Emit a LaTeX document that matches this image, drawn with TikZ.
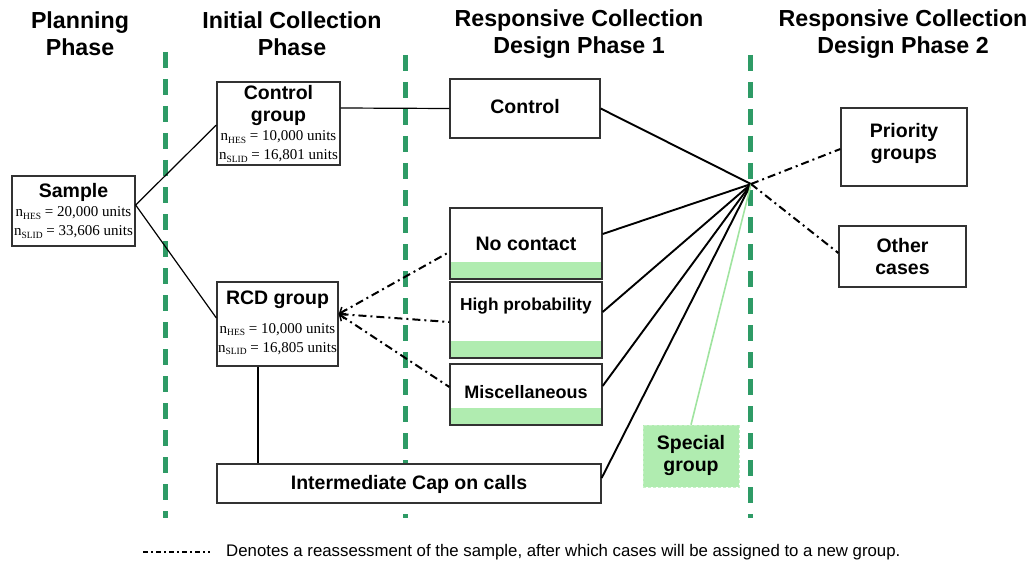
\documentclass[tikz,border=0pt]{standalone}
\usepackage{fontspec}
\setmainfont{Liberation Sans}
\newfontfamily\serif{Liberation Serif}
\usetikzlibrary{arrows.meta}
\definecolor{phasegreen}{RGB}{46,155,102}
\definecolor{lightgreen}{RGB}{176,236,176}
\definecolor{speciallink}{RGB}{160,228,160}
\definecolor{boxgray}{RGB}{50,50,50}
\newcommand{\nsub}[1]{n\raisebox{-0.35ex}{\fontsize{9.5}{9.5}\selectfont #1}}
\tikzset{
  hdr/.style={font=\fontsize{23.2}{27}\selectfont\bfseries, align=center, inner sep=0pt},
  boxn/.style={draw=boxgray, line width=1.3pt, fill=white, inner sep=0pt},
  strip/.style={path picture={\fill[lightgreen] (path picture bounding box.south west) rectangle ([yshift=17pt]path picture bounding box.south east);}},
  ttl/.style={font=\fontsize{19.5}{22}\selectfont\bfseries, align=center, inner sep=0pt},
  nums/.style={font=\fontsize{15}{19}\selectfont\serif, align=center, inner sep=0pt},
  phase/.style={draw=phasegreen, line width=5pt, dash pattern=on 16pt off 11pt},
  link/.style={line width=1.9pt},
  thin/.style={line width=1.2pt},
  reassess/.style={line width=2pt, dash pattern=on 8pt off 4pt on 2pt off 4pt},
}
\begin{document}
\begin{tikzpicture}[x=1pt,y=-1pt]
\useasboundingbox (0,0) rectangle (1032,564);
% headers
\node[hdr] (h1) at (80,34) {Planning\\Phase};
\node[hdr] (h2) at (292,34) {Initial Collection\\Phase};
\node[hdr] (h3) at (579,34) {Responsive Collection\\Design Phase 1};
\node[hdr] (h4) at (903,34) {Responsive Collection\\Design Phase 2};
% phase separators
\coordinate (s1a) at (165,52); \coordinate (s1b) at (165,518);
\coordinate (s2a) at (405,55); \coordinate (s2b) at (405,518);
\coordinate (s3a) at (750,55); \coordinate (s3b) at (750,518);
\draw[phase] (s1a) -- (s1b);
\draw[phase] (s2a) -- (s2b);
\draw[phase] (s3a) -- (s3b);
% boxes
\node[boxn, minimum width=123pt, minimum height=70pt] (sample) at (73.5,211) {};
\node[ttl] (sampleT) at (73.5,192) {Sample};
\node[nums] (sampleN) at (73.5,222.5) {\nsub{HES} = 20,000 units\\\nsub{SLID} = 33,606 units};

\node[boxn, minimum width=123pt, minimum height=83pt] (ctrlg) at (278.5,123.5) {};
\node[ttl] (ctrlgT) at (278.5,106) {Control\\group};
\node[nums] (ctrlgN) at (278.5,146.5) {\nsub{HES} = 10,000 units\\\nsub{SLID} = 16,801 units};

\node[boxn, minimum width=121pt, minimum height=84pt] (rcd) at (277.5,324) {};
\node[ttl] (rcdT) at (277.5,300) {RCD group};
\node[nums] (rcdN) at (277.5,339) {\nsub{HES} = 10,000 units\\\nsub{SLID} = 16,805 units};

\node[boxn, minimum width=150pt, minimum height=59pt] (control) at (525,108.5) {};
\node[ttl] (controlT) at (525,107) {Control};

\node[boxn, strip, minimum width=152pt, minimum height=71pt] (nocontact) at (526,243.5) {};
\node[ttl] (nocontactT) at (526,244) {No contact};

\node[boxn, strip, minimum width=152pt, minimum height=76pt] (highprob) at (526,320) {};
\node[ttl, font=\fontsize{17.3}{20}\selectfont\bfseries] (highprobT) at (526,306) {High probability};

\node[boxn, strip, minimum width=152pt, minimum height=61pt] (misc) at (526,394.5) {};
\node[ttl, font=\fontsize{18}{21}\selectfont\bfseries] (miscT) at (526,392) {Miscellaneous};

\node[boxn, minimum width=384pt, minimum height=39pt] (cap) at (409,483.5) {};
\node[ttl] (capT) at (409,484) {Intermediate Cap on calls};

\node[boxn, minimum width=126pt, minimum height=78pt] (priority) at (904,147) {};
\node[ttl] (priorityT) at (904,144) {Priority\\groups};

\node[boxn, minimum width=127pt, minimum height=61pt] (other) at (902.5,256.5) {};
\node[ttl] (otherT) at (902.5,257) {Other\\cases};

\node[fill=lightgreen, draw=lightgreen!70!white, densely dashed, line width=0.6pt, minimum width=96pt, minimum height=62pt, inner sep=0pt] (special) at (691,456) {};
\node[ttl] (specialT) at (691,455) {Special\\group};

% hub
\coordinate (hub) at (751,184);

% connectors
\draw[thin] ([yshift=6pt]sample.east) -- ([yshift=-1.5pt]ctrlg.west);
\draw[thin] ([yshift=6pt]sample.east) -- ([yshift=6pt]rcd.west);
\draw[thin] ([yshift=15.5pt]ctrlg.east) -- (control.west);
\draw[thin] ([xshift=-19.5pt]rcd.south) -- ([xshift=-19.5pt]rcd.south |- cap.north);

\draw[link] (control.east) -- (hub);
\draw[link] ([yshift=9.5pt]nocontact.east) -- (hub);
\draw[link] ([yshift=8pt]highprob.east) -- (hub);
\draw[link] ([yshift=8.5pt]misc.east) -- (hub);
\draw[link] ([yshift=5.5pt]cap.east) -- (hub);
\draw[speciallink, line width=1.6pt] (special.north) -- (hub);

\draw[reassess] (hub) -- ([yshift=-2pt]priority.west);
\draw[reassess] (hub) -- ([yshift=3.5pt]other.west);

\draw[reassess, {Straight Barb[length=5pt,width=9pt,line width=1.5pt]}-] ([yshift=10pt]rcd.east) -- ([yshift=-8.5pt]nocontact.west);
\draw[reassess, {Straight Barb[length=5pt,width=9pt,line width=1.5pt]}-] ([yshift=10pt]rcd.east) -- ([yshift=-2pt]highprob.west);
\draw[reassess, {Straight Barb[length=5pt,width=9pt,line width=1.5pt]}-] ([yshift=10pt]rcd.east) -- ([yshift=7.5pt]misc.west);

% legend
\coordinate (lg1) at (143,552);
\coordinate (lg2) at (210,552);
\draw[reassess, dash pattern=on 5pt off 3pt on 2pt off 3pt] (lg1) -- (lg2);
\node[anchor=west, inner sep=0pt, font=\fontsize{16.8}{19}\selectfont] (legend) at (226,552) {Denotes a reassessment of the sample, after which cases will be assigned to a new group.};
\end{tikzpicture}
\end{document}
